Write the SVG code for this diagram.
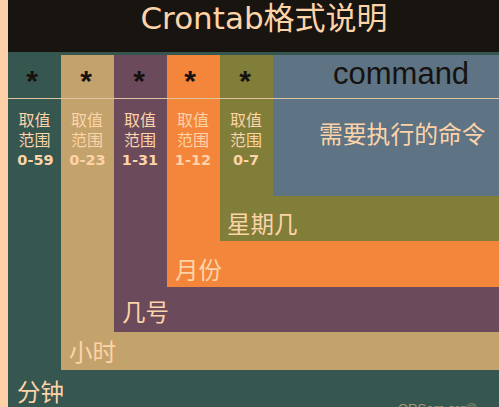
<svg xmlns="http://www.w3.org/2000/svg" width="499" height="407" viewBox="0 0 499 407">
<style>
.t{fill:#FDD3A8;font-family:"DejaVu Sans","Noto Sans CJK SC",sans-serif}
.s{fill:#15120F;font-family:"Liberation Sans",sans-serif;font-weight:bold;font-size:30px;text-anchor:middle}
.c{font-size:16px;text-anchor:middle}
.n{font-size:14.5px;font-weight:bold;text-anchor:middle}
.b{font-size:23.5px}
</style>
<rect x="0" y="0" width="499" height="407" fill="#FDD0A8"/>
<rect x="8" y="0" width="491" height="52" fill="#181410"/>
<g id="minute"><rect x="8" y="52" width="491" height="355" fill="#365650"/>
<text class="s" x="32" y="91">*</text>
<text class="t c" x="34.5" y="126">取值</text><text class="t c" x="34.5" y="146">范围</text><text class="t n" x="35.5" y="164.5">0-59</text>
<text class="t b" x="17" y="401">分钟</text></g>
<g id="hour"><rect x="61" y="55" width="438" height="315" fill="#C4A26C"/>
<text class="s" x="86" y="91">*</text>
<text class="t c" x="87" y="126">取值</text><text class="t c" x="87" y="146">范围</text><text class="t n" x="87.5" y="164.5">0-23</text>
<text class="t b" x="69" y="361">小时</text></g>
<g id="day"><rect x="114" y="55" width="385" height="277" fill="#6B4A5C"/>
<text class="s" x="139" y="91">*</text>
<text class="t c" x="140" y="126">取值</text><text class="t c" x="140" y="146">范围</text><text class="t n" x="140" y="164.5">1-31</text>
<text class="t b" x="122" y="321">几号</text></g>
<g id="month"><rect x="167" y="55" width="332" height="232" fill="#F4863C"/>
<text class="s" x="190" y="91">*</text>
<text class="t c" x="193" y="126">取值</text><text class="t c" x="193" y="146">范围</text><text class="t n" x="193" y="164.5">1-12</text>
<text class="t b" x="175" y="279">月份</text></g>
<g id="weekday"><rect x="220" y="55" width="279" height="186" fill="#807E38"/>
<text class="s" x="245" y="91">*</text>
<text class="t c" x="246" y="126">取值</text><text class="t c" x="246" y="146">范围</text><text class="t n" x="246" y="164.5">0-7</text>
<text class="t b" x="227" y="233">星期几</text></g>
<g id="command"><rect x="273" y="55" width="226" height="141" fill="#5E7484"/>
<text x="333" y="84" font-family="Liberation Sans,sans-serif" font-size="31" fill="#15120F">command</text>
<text class="t" x="319" y="143" font-size="23.8">需要执行的命令</text></g>
<g id="connectors"><line x1="8" y1="98.5" x2="499" y2="98.5" stroke="#E0C4A0" stroke-width="1.2"/></g>
<text class="t" x="264" y="29" font-size="31" text-anchor="middle">Crontab格式说明</text>
<text x="398" y="413" font-family="Liberation Sans,sans-serif" font-size="13" fill="#A89878">ORSam.org©</text>
</svg>
